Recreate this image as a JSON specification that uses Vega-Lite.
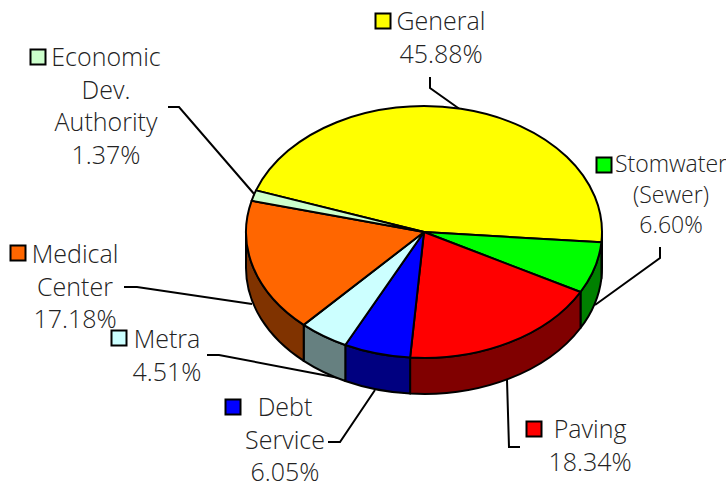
{
"$schema":"https://vega.github.io/schema/vega-lite/v6.json",
"width":726,"height":486,"padding":0,
"autosize":{"type":"fit","contains":"padding"},
"background":"white",
"view":{"stroke":null},
"config":{"text":{"lineBreak":"\n"}},
"data":{"values":[
{"slice":"General","share":45.88,"label":"General\n45.88%"},
{"slice":"Stormwater (Sewer)","share":6.60,"label":"Stomwater\n(Sewer)\n6.60%"},
{"slice":"Paving","share":18.34,"label":"Paving\n18.34%"},
{"slice":"Debt Service","share":6.05,"label":"Debt\nService\n6.05%"},
{"slice":"Metra","share":4.51,"label":"Metra\n4.51%"},
{"slice":"Medical Center","share":17.18,"label":"Medical\nCenter\n17.18%"},
{"slice":"Economic Dev. Authority","share":1.37,"label":"Economic\nDev.\nAuthority\n1.37%"}
]},
"resolve":{"scale":{"shape":"independent","fill":"independent","x":"independent","y":"independent"}},
"layer":[
{"mark":{"type":"point","filled":false,"fill":null,"stroke":"black","strokeWidth":2,"opacity":1,"size":4,"xOffset":62,"yOffset":-11,"strokeJoin":"miter"},
 "encoding":{"shape":{"field":"slice","type":"nominal","legend":null,"scale":{
  "domain":["General","Stormwater (Sewer)","Paving","Debt Service","Metra","Medical Center","Economic Dev. Authority"],
  "range":["M6,-155 L6,-144 L37,-122","M236,15 L236,26 L171,73","M83,148 L85,215 L96,215","M-96,210 L-84,210 L-49,158","M-217,123 L-205,123 L-85,146","M-300,55 L-287,55 L-172,72","M-256,-125 L-245,-125 L-169,-37"]}}}},
{"transform":[{"filter":"datum.slice !== 'Economic Dev. Authority'"}],
 "mark":{"type":"point","filled":true,"stroke":"black","strokeWidth":2,"opacity":1,"size":4,"xOffset":62,"yOffset":-11,"strokeJoin":"round"},
 "encoding":{
  "fill":{"field":"slice","type":"nominal","legend":null,"scale":{
   "domain":["General","Stormwater (Sewer)","Paving","Debt Service","Metra","Medical Center"],
   "range":["#808000","#008000","#800000","#000080","#668080","#803300"]}},
  "shape":{"field":"slice","type":"nominal","legend":null,"scale":{
   "domain":["General","Stormwater (Sewer)","Paving","Debt Service","Metra","Medical Center"],
   "range":[
   "M178,0 A178,126 0 0 1 177.4,10.3 L177.4,46.3 A178,126 0 0 0 178,36 Z",
   "M177.4,10.3 A178,126 0 0 1 156.5,60 L156.5,96 A178,126 0 0 0 177.4,46.3 Z",
   "M156.5,60 A178,126 0 0 1 -13.9,125.6 L-13.9,161.6 A178,126 0 0 0 156.5,96 Z",
   "M-13.9,125.6 A178,126 0 0 1 -78.7,113 L-78.7,149 A178,126 0 0 0 -13.9,161.6 Z",
   "M-78.7,113 A178,126 0 0 1 -120.3,92.9 L-120.3,128.9 A178,126 0 0 0 -78.7,149 Z",
   "M-120.3,92.9 A178,126 0 0 1 -178,0 L-178,36 A178,126 0 0 0 -120.3,128.9 Z"]}}}},
{"mark":{"type":"point","filled":true,"stroke":"black","strokeWidth":2,"opacity":1,"size":4,"xOffset":62,"yOffset":-11,"strokeJoin":"round"},
 "encoding":{
  "fill":{"field":"slice","type":"nominal","legend":null,"scale":{
   "domain":["General","Stormwater (Sewer)","Paving","Debt Service","Metra","Medical Center","Economic Dev. Authority"],
   "range":["#FFFF00","#00FF00","#FF0000","#0000FF","#CCFFFF","#FF6600","#CCFFCC"]}},
  "shape":{"field":"slice","type":"nominal","legend":null,"scale":{
   "domain":["General","Stormwater (Sewer)","Paving","Debt Service","Metra","Medical Center","Economic Dev. Authority"],
   "range":[
   "M0,0 L-168,-41.6 A178,126 0 0 1 177.4,10.3 Z",
   "M0,0 L177.4,10.3 A178,126 0 0 1 156.5,60 Z",
   "M0,0 L156.5,60 A178,126 0 0 1 -13.9,125.6 Z",
   "M0,0 L-13.9,125.6 A178,126 0 0 1 -78.7,113 Z",
   "M0,0 L-78.7,113 A178,126 0 0 1 -120.3,92.9 Z",
   "M0,0 L-120.3,92.9 A178,126 0 0 1 -172.4,-31.2 Z",
   "M0,0 L-172.4,-31.2 A178,126 0 0 1 -168,-41.6 Z"]}}}},
{"mark":{"type":"point","filled":true,"shape":"square","stroke":"black","strokeWidth":2,"opacity":1,"size":225},
 "encoding":{
  "x":{"field":"share","type":"quantitative","axis":null,"scale":{"domain":[1.37,4.51,6.05,6.60,17.18,18.34,45.88],"range":[38,119,233,604,18,534,383],"zero":false,"nice":false}},
  "y":{"field":"share","type":"quantitative","axis":null,"scale":{"domain":[1.37,4.51,6.05,6.60,17.18,18.34,45.88],"range":[57,338,407,165,253,429,21],"zero":false,"nice":false}},
  "fill":{"field":"slice","type":"nominal","legend":null,"scale":{
   "domain":["General","Stormwater (Sewer)","Paving","Debt Service","Metra","Medical Center","Economic Dev. Authority"],
   "range":["#FFFF00","#00FF00","#FF0000","#0000FF","#CCFFFF","#FF6600","#CCFFCC"]}}}},
{"transform":[{"filter":"datum.share !== 6.6"}],
 "mark":{"type":"text","font":"Open Sans","fontWeight":300,"fontSize":25,"lineHeight":32.5,"align":"center","baseline":"top","color":"#222222"},
 "encoding":{
  "x":{"field":"share","type":"quantitative","axis":null,"scale":{"domain":[1.37,4.51,6.05,17.18,18.34,45.88],"range":[106,167,285,75,590,441],"zero":false,"nice":false}},
  "y":{"field":"share","type":"quantitative","axis":null,"scale":{"domain":[1.37,4.51,6.05,17.18,18.34,45.88],"range":[46,328,396,243,418,10],"zero":false,"nice":false}},
  "text":{"field":"label","type":"nominal"}}},
{"transform":[{"filter":"datum.share === 6.6"}],
 "mark":{"type":"text","font":"Open Sans","fontWeight":300,"fontSize":23,"lineHeight":30.5,"align":"center","baseline":"top","color":"#222222"},
 "encoding":{
  "x":{"field":"share","type":"quantitative","axis":null,"scale":{"domain":[6.6,7],"range":[671,672],"zero":false,"nice":false}},
  "y":{"field":"share","type":"quantitative","axis":null,"scale":{"domain":[6.6,7],"range":[154,155],"zero":false,"nice":false}},
  "text":{"field":"label","type":"nominal"}}}
]
}
